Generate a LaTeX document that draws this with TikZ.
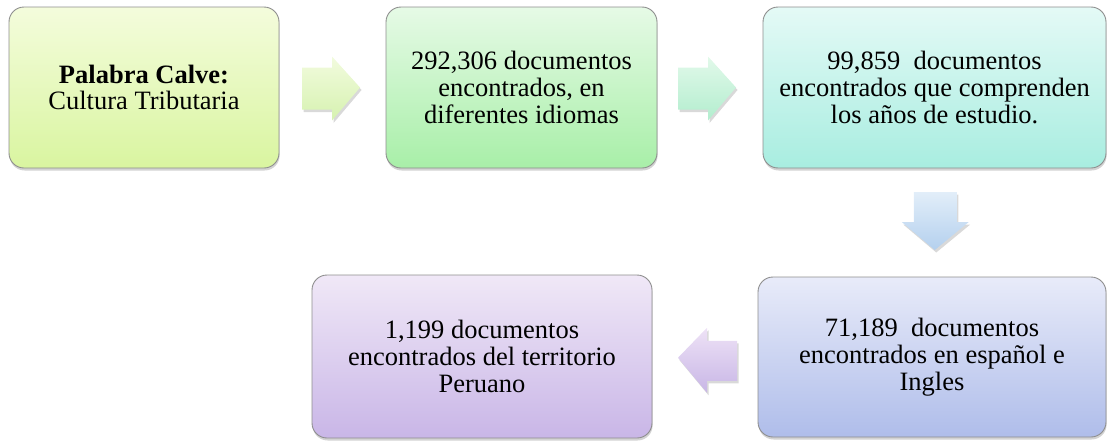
\documentclass[tikz,border=0pt]{standalone}
\usepackage{fontspec}
\setmainfont{Liberation Serif}
\usetikzlibrary{shadows,calc}
\definecolor{bordergray}{HTML}{8E8E8E}
\definecolor{g1t}{HTML}{F4FCDC}\definecolor{g1b}{HTML}{D9F5A0}
\definecolor{g2t}{HTML}{E6FAE6}\definecolor{g2b}{HTML}{A8EFA8}
\definecolor{g3t}{HTML}{E4FAF6}\definecolor{g3b}{HTML}{A8EDE0}
\definecolor{g4t}{HTML}{E8EBF9}\definecolor{g4b}{HTML}{AFBDEA}
\definecolor{g5t}{HTML}{F0E8F7}\definecolor{g5b}{HTML}{C9B6E7}
\definecolor{a1t}{HTML}{F2FBDE}\definecolor{a1b}{HTML}{D6F2B0}
\definecolor{a2t}{HTML}{E2F9EA}\definecolor{a2b}{HTML}{B2EDCE}
\definecolor{a3t}{HTML}{E2EEF9}\definecolor{a3b}{HTML}{B4D0EE}
\definecolor{a4t}{HTML}{EEE2F6}\definecolor{a4b}{HTML}{C8B6E6}
\tikzset{
  box/.style={draw=bordergray, line width=0.9pt, rounded corners=15pt,
    align=center, inner sep=0pt,
    font=\fontsize{26.5}{26.8}\selectfont,
    drop shadow={opacity=0.35, shadow xshift=0.6pt, shadow yshift=-2.5pt}},
  blockarrow/.style={draw=none,
    drop shadow={opacity=0.3, shadow xshift=1.5pt, shadow yshift=-2.5pt}}
}
\begin{document}
\begin{tikzpicture}[x=1pt,y=-1pt]
\useasboundingbox (0,0) rectangle (1110,442);
\node[box, top color=g1t, bottom color=g1b, minimum width=270pt, minimum height=161pt]
  (b1) at (144,87.5) {\textbf{Palabra Calve:}\\Cultura Tributaria};
\node[box, top color=g2t, bottom color=g2b, minimum width=271pt, minimum height=161pt]
  (b2) at (521.5,87.5) {292,306 documentos\\encontrados, en\\diferentes idiomas};
\node[box, top color=g3t, bottom color=g3b, minimum width=343pt, minimum height=161pt]
  (b3) at (934.5,87.5) {99,859~ documentos\\encontrados que comprenden\\los años de estudio.};
\node[box, top color=g4t, bottom color=g4b, minimum width=348pt, minimum height=160pt]
  (b4) at (932,357) {71,189~ documentos\\encontrados en español e\\Ingles};
\node[box, top color=g5t, bottom color=g5b, minimum width=340pt, minimum height=163pt]
  (b5) at (482,356.5) {1,199 documentos\\encontrados del territorio\\Peruano};
% arrow anchors between the boxes
\coordinate (c1) at ($(b1.east)!0.5!(b2.west)$);
\coordinate (c2) at ($(b2.east)!0.5!(b3.west)$);
\coordinate (c3) at ($(b3.south)!0.5!(b4.north)$);
\coordinate (c4) at ($(b5.east)!0.5!(b4.west)$);
% right arrow 1
\path[blockarrow, top color=a1t, bottom color=a1b, shift={(c1)}]
  (-30.5,-20) -- (-0.5,-20) -- (-0.5,-31) -- (27.5,0) -- (-0.5,33) -- (-0.5,22) -- (-30.5,22) -- cycle;
% right arrow 2
\path[blockarrow, top color=a2t, bottom color=a2b, shift={(c2)}]
  (-32,-20) -- (-2,-20) -- (-2,-31) -- (26,0) -- (-2,33) -- (-2,22) -- (-32,22) -- cycle;
% down arrow
\path[blockarrow, top color=a3t, bottom color=a3b, shift={(c3)}]
  (-19.5,-30.5) -- (23.5,-30.5) -- (23.5,-0.5) -- (35.5,-0.5) -- (1.5,27.5) -- (-31.5,-0.5) -- (-19.5,-0.5) -- cycle;
% left arrow
\path[blockarrow, top color=a4t, bottom color=a4b, shift={(c4)}]
  (32,-16) -- (2,-16) -- (2,-29) -- (-27,1) -- (2,36) -- (2,24) -- (32,24) -- cycle;
\end{tikzpicture}
\end{document}
